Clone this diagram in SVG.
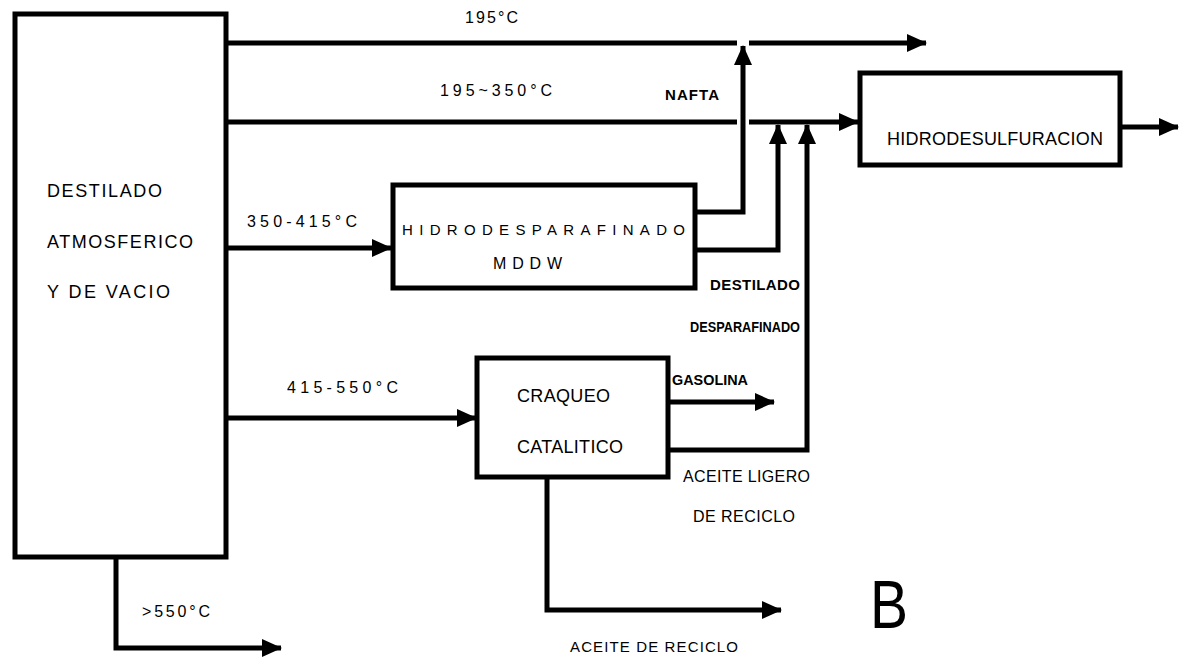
<svg xmlns="http://www.w3.org/2000/svg" width="1180" height="661" viewBox="0 0 1180 661">
<style>
.box{fill:none;stroke:#000;stroke-width:5}
.ln{fill:none;stroke:#000;stroke-width:5;stroke-linejoin:miter;stroke-linecap:butt}
.ar{marker-end:url(#ah)}
text{font-family:"Liberation Sans",Arial,sans-serif;fill:#000}
.t16{font-size:16px}
.t18{font-size:18px}
.t15{font-size:15px}
.t14{font-size:14px}
.b{font-weight:bold}
</style>
<defs>
<marker id="ah" markerUnits="userSpaceOnUse" markerWidth="20" markerHeight="18" refX="19" refY="9" orient="auto" viewBox="0 0 20 18">
<path d="M0,0 L20,9 L0,18 Z" fill="#000"/>
</marker>
</defs>
<rect width="1180" height="661" fill="#fff"/>

<g id="connectors">
<path class="ln" d="M226,43 H737"/>
<path class="ln ar" d="M749,43 H926"/>
<path class="ln" d="M226,122 H737"/>
<path class="ln ar" d="M749,122 H858"/>
<path class="ln ar" d="M695,212 H743 V46"/>
<path class="ln ar" d="M695,250 H778 V125"/>
<path class="ln ar" d="M668,450 H807 V125"/>
<path class="ln ar" d="M668,402 H774"/>
<path class="ln ar" d="M226,248 H391"/>
<path class="ln ar" d="M226,418 H476"/>
<path class="ln ar" d="M547,477 V610 H781"/>
<path class="ln ar" d="M116,557 V648 H281"/>
<path class="ln ar" d="M1120,127 H1178"/>
</g>

<g id="destilado">
<rect class="box" x="15" y="14" width="211" height="543"/>
<text class="t18" x="47" y="197" textLength="115" lengthAdjust="spacing">DESTILADO</text>
<text class="t18" x="47" y="248" textLength="146" lengthAdjust="spacing">ATMOSFERICO</text>
<text class="t18" x="47" y="298" textLength="123" lengthAdjust="spacing">Y DE VACIO</text>
</g>

<g id="hidrodesparafinado">
<rect class="box" x="393" y="185" width="302" height="103"/>
<text class="t15" x="402" y="235" textLength="283" lengthAdjust="spacing">HIDRODESPARAFINADO</text>
<text class="t16" x="493" y="269" textLength="69" lengthAdjust="spacing">MDDW</text>
</g>

<g id="craqueo">
<rect class="box" x="477" y="358" width="191" height="119"/>
<text class="t18" x="517" y="402" textLength="93" lengthAdjust="spacing">CRAQUEO</text>
<text class="t18" x="517" y="453" textLength="106" lengthAdjust="spacing">CATALITICO</text>
</g>

<g id="hidrodesulfuracion">
<rect class="box" x="860" y="73" width="260" height="92"/>
<text class="t18" x="887" y="145" textLength="216" lengthAdjust="spacing">HIDRODESULFURACION</text>
</g>

<g id="labels">
<text class="t16" x="465" y="23" textLength="53" lengthAdjust="spacing">195°C</text>
<text class="t16" x="440" y="96" textLength="112" lengthAdjust="spacing">195~350°C</text>
<text class="t15 b" x="665" y="100" textLength="54" lengthAdjust="spacing">NAFTA</text>
<text class="t15 b" x="710" y="290" textLength="90" lengthAdjust="spacing">DESTILADO</text>
<text class="t14 b" x="690" y="332" textLength="110" lengthAdjust="spacingAndGlyphs">DESPARAFINADO</text>
<text class="t15 b" x="672" y="385" textLength="76" lengthAdjust="spacingAndGlyphs">GASOLINA</text>
<text class="t16" x="247" y="227" textLength="110" lengthAdjust="spacing">350-415°C</text>
<text class="t16" x="287" y="393" textLength="111" lengthAdjust="spacing">415-550°C</text>
<text class="t16" x="683" y="482" textLength="127" lengthAdjust="spacing">ACEITE LIGERO</text>
<text class="t16" x="693" y="522" textLength="102" lengthAdjust="spacing">DE RECICLO</text>
<text class="t15" x="570" y="652" textLength="168" lengthAdjust="spacing">ACEITE DE RECICLO</text>
<text class="t16" x="142" y="617" textLength="68" lengthAdjust="spacing">&gt;550°C</text>
<text x="870" y="628" style="font-size:68px" textLength="38" lengthAdjust="spacingAndGlyphs">B</text>
</g>
</svg>
